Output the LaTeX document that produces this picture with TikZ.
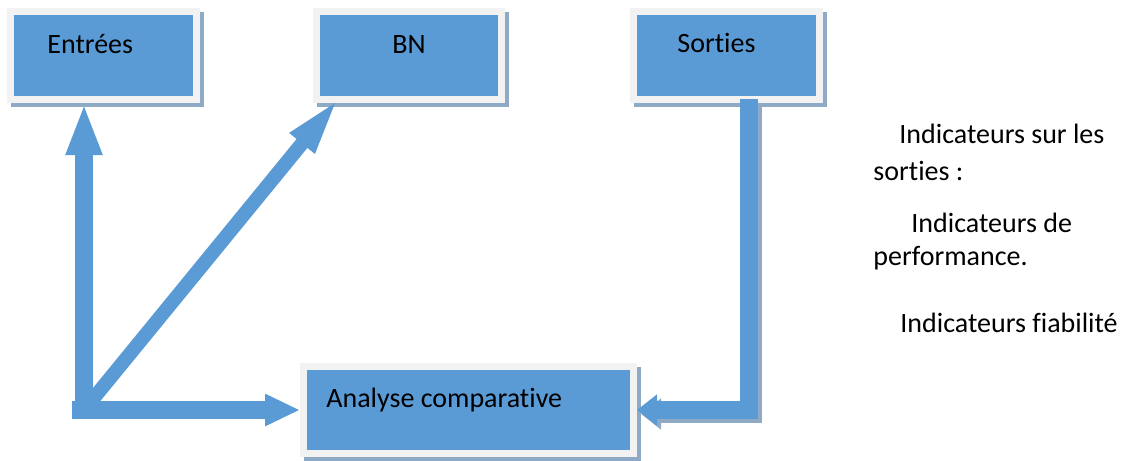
\documentclass[tikz,border=0pt]{standalone}
\usepackage{fontspec}
\setmainfont{Carlito}[Ligatures={NoCommon}]
\usepackage{tikz}
\usetikzlibrary{arrows.meta}
\usetikzlibrary{fit,backgrounds}
\definecolor{bleu}{HTML}{5B9BD5}
\definecolor{cadre}{HTML}{F2F2F2}
\definecolor{ombre}{HTML}{8FAAC4}
\tikzset{
  bloc/.style={fill=bleu, draw=cadre, line width=3.5pt, inner sep=0pt},
  texte/.style={anchor=base west, inner sep=0pt, font=\fontsize{14}{17}\selectfont},
  fleche/.style={draw=bleu, line width=9pt}
}
\newcommand{\ombrage}[1]{\fill[ombre] ([shift={(4,4)}]#1.north west) rectangle ([shift={(4,4)}]#1.south east);}

\begin{document}
\begin{tikzpicture}[x=0.5pt,y=-0.5pt]
        \useasboundingbox (0,0) rectangle (1142,461);

        % boxes
        \node[bloc, fit={(10.5,11.5) (196.5,99.5)}] (ent) {};
        \node[bloc, fit={(316.5,11.5) (501.5,99.5)}] (bn) {};
        \node[bloc, fit={(633.5,11.5) (819.5,99.5)}] (sor) {};
        \node[bloc, fit={(303.5,366.5) (633.5,453.5)}] (ana) {};
        \begin{scope}[on background layer]
        \ombrage{ent}
        \ombrage{bn}
        \ombrage{sor}
        \ombrage{ana}
        \end{scope}

        % box texts
        \node[texte] (tent) at (47,53) {Entrées};
        \node[texte] (tbn) at (392,53) {BN};
        \node[texte] (tsor) at (677,52) {Sorties};
        \node[texte] (tana) at (326,407) {Analyse comparative};

        % left arrows
        \coordinate (coin) at (84,410);
        \draw[fleche, -{Triangle[length=26pt,width=16.5pt]}] ([yshift=-4.5pt]coin) -- (coin |- ent.south);
        \draw[fleche, -{Triangle[length=17.5pt,width=15pt]}] ([xshift=-6pt]coin) -- (ana.west);
        \draw[fleche, line width=7pt, -{Triangle[length=30pt,width=14pt]}] (coin) -- ([shift={(27,-6)}]bn.south west);

        % arrow from Sorties
        \coordinate (depart) at (749,99);
        \draw[fleche, draw=ombre, transform canvas={xshift=2pt,yshift=-2pt}, -{Triangle[length=10pt,width=15pt]}] (depart) |- (ana.east);
        \draw[fleche, -{Triangle[length=10pt,width=15pt]}] (depart) |- (ana.east);

        % indicators
        \node[texte] (ind1) at (899,143) {Indicateurs sur les};
        \node[texte] (ind2) at (873,180) {sorties :};
        \node[texte] (ind3) at (911,232) {Indicateurs de};
        \node[texte] (ind4) at (873,265) {performance.};
        \node[texte] (ind5) at (900,332) {Indicateurs fiabilité};

\end{tikzpicture}
\end{document}
